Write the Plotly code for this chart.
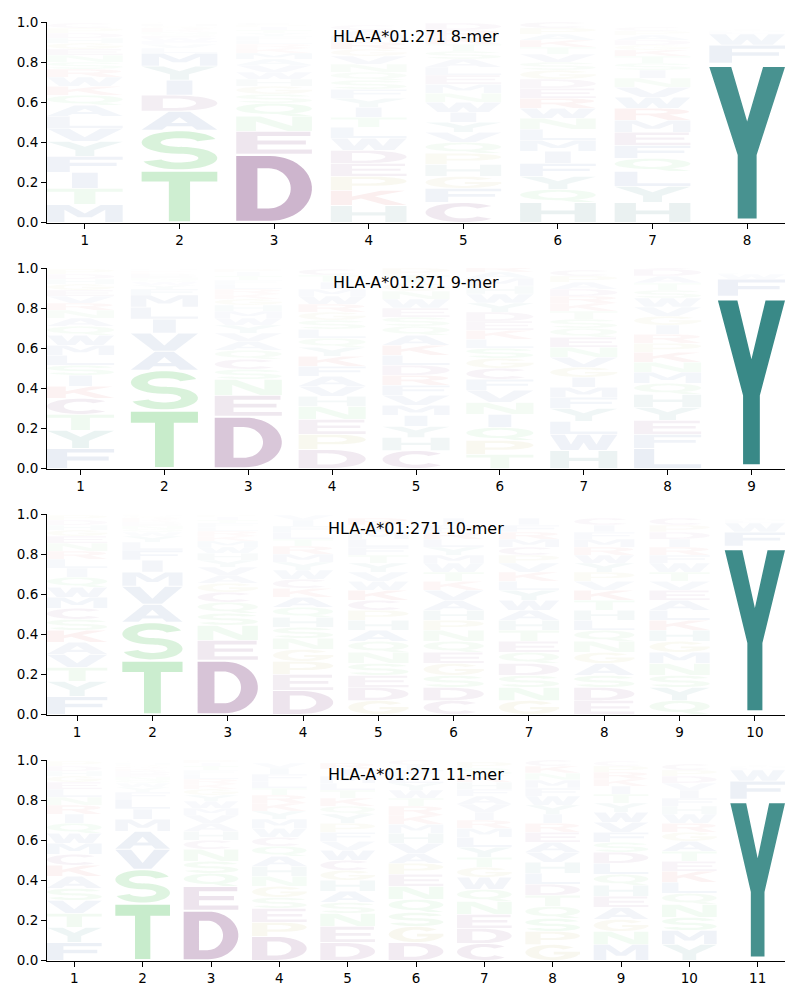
import numpy as np
import plotly.graph_objects as go

# ---------------- data (letters listed bottom -> top, with their probabilities) -------------
titles = ["HLA-A*01:271 8-mer", "HLA-A*01:271 9-mer", "HLA-A*01:271 10-mer", "HLA-A*01:271 11-mer"]

letters_8mer = ["MTIFYVLAQKWRSNEGHDPC", "TSADIYMLVFWEQNKRGHPC", "DENQSGHWVAMKRLFYTIPC",
                "HKPEDWLTIYFSQNVGRMAC", "CFGHPQVYIWNMELASTKRD", "HQYFIMLNWREDGSVTKAPC",
                "HYLQFEMRWVNISTKGDAPC", "YFWLMIHVQTSNKRAGEDPC"]
probs_8mer = [
    [.09, .08, .08, .08, .075, .065, .06, .055, .05, .045, .045, .04, .035, .035, .03, .03, .025, .025, .025, .025],
    [.26, .20, .095, .08, .075, .07, .065, .025, .02, .015, .015, .01, .01, .01, .01, .01, .01, .01, .005, .005],
    [.34, .115, .075, .065, .045, .04, .035, .035, .035, .03, .03, .025, .02, .02, .02, .015, .015, .015, .01, .01],
    [.085, .075, .07, .065, .065, .06, .055, .05, .05, .045, .045, .045, .04, .04, .04, .035, .035, .03, .03, .025],
    [.10, .07, .06, .06, .055, .055, .05, .05, .05, .05, .045, .045, .045, .04, .04, .04, .035, .035, .035, .035],
    [.10, .065, .065, .065, .06, .055, .055, .055, .05, .05, .05, .045, .045, .04, .04, .035, .035, .03, .03, .03],
    [.10, .08, .075, .065, .065, .065, .06, .06, .055, .05, .045, .04, .035, .035, .03, .025, .025, .025, .02, .02],
    [.795, .09, .055, .01, .008, .006, .005, .005, .004, .004, .003, .003, .002, .002, .002, .002, .001, .001, .001, .001],
]

letters_9mer = ["FYTCKISLMWQANRVEGHDP", "TSAVILMFYWQNEDKRGHPC", "DENSCQAVYWMHGKRLFTIP",
                "DPENHVAFKYQLSGRWMITC", "CHYIMVFRDLKAQSEWNGTP", "TPQINVFCGSLKEDYWHMAR",
                "HWLYFMIGVNEQSTKRDAPC", "LFEYHQMNKPRIGVWSTADC", "YFWLMIHVQTSNKRAGEDPC"]
probs_9mer = [
    [.10, .09, .08, .08, .06, .055, .05, .05, .05, .05, .045, .04, .04, .035, .035, .03, .03, .025, .025, .025],
    [.29, .20, .095, .09, .07, .06, .06, .03, .02, .015, .01, .01, .01, .01, .008, .007, .005, .005, .003, .002],
    [.26, .105, .08, .05, .05, .045, .045, .04, .04, .035, .035, .03, .03, .025, .025, .025, .02, .02, .02, .015],
    [.095, .075, .075, .065, .05, .05, .05, .05, .05, .045, .045, .045, .045, .04, .04, .04, .035, .035, .035, .03],
    [.09, .065, .055, .055, .05, .05, .05, .05, .05, .05, .05, .05, .045, .045, .045, .045, .04, .04, .04, .035],
    [.07, .07, .065, .065, .06, .06, .055, .055, .05, .05, .045, .045, .045, .045, .045, .045, .04, .04, .03, .03],
    [.09, .08, .065, .065, .055, .05, .05, .05, .05, .05, .05, .045, .045, .04, .04, .035, .035, .035, .03, .03],
    [.10, .07, .07, .065, .065, .055, .055, .05, .05, .045, .045, .045, .045, .045, .045, .04, .035, .035, .035, .03],
    [.86, .085, .025, .007, .005, .004, .003, .002, .002, .001, .001, .001, .001, .001, .001, .001, .001, .001, .001, .001],
]

letters_10mer = ["FYTVAKSCMWQILRNEGHDP", "TSAVMIFLYWQNEDKRGHPC", "DENSQCGAVYHWMKRLFTIP",
                 "DEPGNSHQAKCWYMRTLFIV", "GDESNQAHPCKWVYTFLMIR", "CDSGEQNPHAVKTWMYLRFI",
                 "GNSDQETHAWYLKVPCMRFI", "EDSAGNQLHTKVPYWRMFIC", "QYSNMGHKLAEVTWFRIDPC",
                 "YFWLMIHVQTSNKRAGEDPC"]
probs_10mer = [
    [.09, .075, .07, .065, .06, .06, .055, .055, .055, .05, .05, .045, .045, .04, .04, .035, .03, .025, .025, .025],
    [.27, .19, .09, .09, .07, .06, .05, .04, .03, .02, .015, .015, .01, .01, .01, .01, .01, .005, .005, .005],
    [.27, .10, .075, .06, .055, .05, .045, .04, .04, .035, .035, .03, .03, .025, .025, .02, .02, .015, .015, .01],
    [.12, .08, .065, .06, .055, .055, .05, .05, .05, .045, .045, .045, .04, .04, .04, .035, .035, .03, .03, .025],
    [.07, .065, .06, .06, .055, .055, .055, .05, .05, .05, .05, .045, .045, .045, .04, .04, .04, .035, .035, .035],
    [.07, .065, .06, .06, .055, .055, .055, .05, .05, .05, .05, .045, .045, .045, .04, .04, .04, .035, .035, .035],
    [.07, .065, .06, .06, .055, .055, .055, .05, .05, .05, .05, .045, .045, .045, .04, .04, .04, .035, .035, .035],
    [.07, .065, .06, .06, .055, .055, .055, .05, .05, .05, .05, .045, .045, .045, .04, .04, .04, .035, .035, .035],
    [.07, .065, .06, .06, .055, .055, .055, .05, .05, .05, .05, .045, .045, .045, .04, .04, .04, .035, .035, .035],
    [.84, .07, .045, .01, .008, .006, .005, .004, .003, .002, .002, .001, .001, .001, .001, .001, .0005, .0005, .0005, .0005],
]

letters_11mer = ["FYTVSAKCMWQIRNLEGHDP", "TSVAMILFYWQNEDKRGHPC", "DEQSNCHAVMWYGKRLFTIP",
                 "DPESGNHAQCWMYKRTLFIV", "DENSAHGCWVFPYQKTLMIR", "DGSQNEPAVHMKRTWYLFIC",
                 "CDENQWGTYLMRIVAFHKSP", "GPSQTDLHVAERIYWFMNKC", "MNGAEHQLDSFVWYTIKRPC",
                 "YMSNQLKETAGRWHFIVDPC", "YFWLMIHVQTSNKRAGEDPC"]
probs_11mer = [
    [.09, .075, .07, .065, .06, .06, .055, .055, .055, .05, .05, .045, .045, .04, .04, .035, .03, .025, .025, .025],
    [.285, .17, .10, .09, .06, .05, .05, .035, .025, .02, .015, .015, .015, .015, .012, .01, .01, .008, .005, .005],
    [.25, .12, .065, .06, .06, .045, .045, .04, .04, .035, .035, .03, .03, .025, .025, .025, .02, .02, .015, .015],
    [.12, .07, .07, .055, .055, .05, .05, .05, .05, .045, .045, .045, .04, .04, .04, .035, .035, .035, .03, .025],
    [.09, .08, .065, .055, .055, .055, .05, .05, .05, .045, .045, .045, .045, .04, .04, .04, .035, .035, .035, .03],
    [.09, .08, .07, .065, .065, .06, .055, .05, .05, .05, .045, .045, .045, .04, .04, .035, .035, .03, .025, .025],
    [.085, .075, .07, .065, .06, .06, .05, .05, .05, .05, .045, .04, .04, .04, .04, .035, .035, .035, .035, .03],
    [.08, .065, .065, .06, .055, .055, .055, .055, .05, .05, .05, .045, .045, .045, .045, .04, .04, .035, .035, .03],
    [.08, .065, .06, .06, .055, .055, .055, .055, .055, .05, .05, .05, .05, .045, .045, .04, .035, .035, .03, .025],
    [.08, .07, .065, .065, .055, .055, .055, .05, .05, .05, .045, .045, .045, .04, .04, .04, .035, .035, .03, .03],
    [.805, .09, .055, .01, .008, .006, .005, .004, .003, .003, .002, .002, .002, .001, .001, .001, .001, .001, .0005, .0005],
]

panels = [(letters_8mer, probs_8mer), (letters_9mer, probs_9mer),
          (letters_10mer, probs_10mer), (letters_11mer, probs_11mer)]

# ---------------- style ----------------
GREEN = (64, 188, 76)
PURPLE = (108, 37, 108)
TEAL = (25, 118, 115)
HTEAL = (45, 120, 120)
BLUE = (45, 85, 160)
RED = (200, 40, 40)
OLIVE = (165, 155, 45)
COLOR = {}
for ch in "STNQ":
    COLOR[ch] = GREEN
for ch in "DEC":
    COLOR[ch] = PURPLE
for ch in "AVLIMFW":
    COLOR[ch] = BLUE
for ch in "KR":
    COLOR[ch] = RED
for ch in "GP":
    COLOR[ch] = OLIVE
COLOR["Y"] = TEAL
COLOR["H"] = HTEAL

GLYPH_WIDTH = 0.8
VPAD = 0.05
FONT = "DejaVu Sans"


# ---------------- glyph outlines in a unit box (y up) ----------------
def ell(cx, cy, rx, ry, a0, a1, n=28):
    t = np.radians(np.linspace(a0, a1, n))
    return [(cx + rx * np.cos(v), cy + ry * np.sin(v)) for v in t]


def sector(cx, cy, rxo, ryo, rxi, ryi, a0, a1, n=28):
    return ell(cx, cy, rxo, ryo, a0, a1, n) + ell(cx, cy, rxi, ryi, a1, a0, n)


def full_ell(cx, cy, rx, ry, n=44):
    return ell(cx, cy, rx, ry, 0, 360, n)[:-1]


def rect(x0, y0, x1, y1):
    return [(x0, y0), (x1, y0), (x1, y1), (x0, y1)]


S, H_ = False, True  # solid / hole
GLYPHS = {
    "A": [([(0, 0), (0.27, 0), (0.335, 0.19), (0.665, 0.19), (0.73, 0), (1, 0), (0.64, 1), (0.36, 1)], S),
          ([(0.39, 0.37), (0.61, 0.37), (0.5, 0.70)], H_)],
    "C": [(sector(0.5, 0.5, 0.5, 0.5, 0.25, 0.31, 42, 318), S)],
    "D": [([(0, 0), (0.45, 0)] + ell(0.45, 0.5, 0.55, 0.5, -90, 90) + [(0, 1)], S),
          ([(0.28, 0.19), (0.28, 0.81), (0.43, 0.81)] + ell(0.43, 0.5, 0.29, 0.31, 90, -90), H_)],
    "E": [([(0, 0), (1, 0), (1, 0.19), (0.28, 0.19), (0.28, 0.42), (0.92, 0.42), (0.92, 0.6),
            (0.28, 0.6), (0.28, 0.81), (0.98, 0.81), (0.98, 1), (0, 1)], S)],
    "F": [([(0, 0), (0.3, 0), (0.3, 0.4), (0.92, 0.4), (0.92, 0.6), (0.3, 0.6), (0.3, 0.81),
            (1, 0.81), (1, 1), (0, 1)], S)],
    "G": [(sector(0.5, 0.5, 0.5, 0.5, 0.25, 0.31, 40, 360), S),
          (rect(0.52, 0.36, 1.0, 0.54), S)],
    "H": [([(0, 0), (0.28, 0), (0.28, 0.41), (0.72, 0.41), (0.72, 0), (1, 0), (1, 1), (0.72, 1),
            (0.72, 0.6), (0.28, 0.6), (0.28, 1), (0, 1)], S)],
    "I": [(rect(0.33, 0, 0.67, 1), S)],
    "K": [([(0, 0), (0.28, 0), (0.28, 0.33), (0.4, 0.46), (0.72, 0), (1, 0), (0.58, 0.62), (0.98, 1),
            (0.66, 1), (0.28, 0.6), (0.28, 1), (0, 1)], S)],
    "L": [([(0, 0), (1, 0), (1, 0.2), (0.3, 0.2), (0.3, 1), (0, 1)], S)],
    "M": [([(0, 0), (0.23, 0), (0.23, 0.72), (0.41, 0.28), (0.59, 0.28), (0.77, 0.72), (0.77, 0), (1, 0),
            (1, 1), (0.71, 1), (0.5, 0.5), (0.29, 1), (0, 1)], S)],
    "N": [([(0, 0), (0.26, 0), (0.26, 0.65), (0.68, 0), (1, 0), (1, 1), (0.74, 1), (0.74, 0.35),
            (0.32, 1), (0, 1)], S)],
    "P": [([(0, 0), (0.28, 0), (0.28, 0.33), (0.55, 0.33)] + ell(0.55, 0.665, 0.45, 0.335, -90, 90) + [(0, 1)], S),
          ([(0.28, 0.5), (0.28, 0.83), (0.5, 0.83)] + ell(0.5, 0.665, 0.22, 0.165, 90, -90), H_)],
    "Q": [(full_ell(0.5, 0.58, 0.5, 0.42), S), (full_ell(0.5, 0.58, 0.26, 0.25), H_),
          ([(0.5, 0.2), (0.72, 0.0), (1.0, 0.0), (0.76, 0.22)], S)],
    "R": [([(0, 0), (0.28, 0), (0.28, 0.4), (0.45, 0.4), (0.7, 0), (1, 0), (0.72, 0.47)]
           + ell(0.52, 0.72, 0.46, 0.28, -50, 90) + [(0, 1)], S),
          ([(0.28, 0.57), (0.28, 0.84), (0.5, 0.84)] + ell(0.5, 0.705, 0.2, 0.135, 90, -90), H_)],
    "S": [(sector(0.5, 0.705, 0.5, 0.295, 0.25, 0.115, 18, 278), S),
          (sector(0.5, 0.295, 0.5, 0.295, 0.25, 0.115, 98, -162), S)],
    "T": [([(0, 1), (1, 1), (1, 0.8), (0.64, 0.8), (0.64, 0), (0.36, 0), (0.36, 0.8), (0, 0.8)], S)],
    "V": [([(0, 1), (0.29, 1), (0.5, 0.3), (0.71, 1), (1, 1), (0.66, 0), (0.34, 0)], S)],
    "W": [([(0, 1), (0.22, 1), (0.31, 0.36), (0.41, 1), (0.59, 1), (0.69, 0.36), (0.78, 1), (1, 1),
            (0.84, 0), (0.58, 0), (0.5, 0.5), (0.42, 0), (0.16, 0)], S)],
    "Y": [([(0, 1), (0.29, 1), (0.5, 0.64), (0.71, 1), (1, 1), (0.625, 0.42), (0.625, 0), (0.375, 0),
            (0.375, 0.42)], S)],
}


def signed_area(poly):
    s = 0.0
    n = len(poly)
    for i in range(n):
        x1, y1 = poly[i]
        x2, y2 = poly[(i + 1) % n]
        s += x1 * y2 - x2 * y1
    return s / 2


def glyph_path(letter, x0, x1, y0, y1):
    parts = []
    for poly, hole in GLYPHS[letter]:
        a = signed_area(poly)
        if (a < 0) != hole:
            poly = poly[::-1]
        pts = [(x0 + (x1 - x0) * px, y0 + (y1 - y0) * py) for px, py in poly]
        parts.append("M" + "L".join(f"{x:.4f},{y:.5f}" for x, y in pts) + "Z")
    return "".join(parts)


# ---------------- figure ----------------
W, Hpx = 800, 1000
x_left, x_right = 47, 785
panel_tops = [22, 268, 514, 760]
panel_h = 200.5

fig = go.Figure()
shapes = []
annotations = []
layout = dict(width=W, height=Hpx, autosize=False,
              margin=dict(l=0, r=0, t=0, b=0, pad=0, autoexpand=False),
              paper_bgcolor="white", plot_bgcolor="white", showlegend=False,
              font=dict(family=FONT, color="black", size=13.5))

for k, ((letters, probs), title) in enumerate(zip(panels, titles)):
    idx = "" if k == 0 else str(k + 1)
    npos = len(letters)
    positions = list(range(1, npos + 1))
    top = panel_tops[k]
    ydom = [1 - (top + panel_h) / Hpx, 1 - top / Hpx]
    xdom = [x_left / W, x_right / W]

    layout["xaxis" + idx] = dict(domain=xdom, anchor="y" + idx, range=[0.6, npos + 0.4],
                                 tickmode="array", tickvals=positions, ticktext=[str(p) for p in positions],
                                 showline=True, linecolor="black", linewidth=1, mirror=False,
                                 ticks="outside", ticklen=5, tickwidth=1, tickcolor="black",
                                 showgrid=False, zeroline=False, fixedrange=True, automargin=False)
    layout["yaxis" + idx] = dict(domain=ydom, anchor="x" + idx, range=[0, 1],
                                 tickmode="array", tickvals=[0, 0.2, 0.4, 0.6, 0.8, 1.0],
                                 ticktext=["0.0", "0.2", "0.4", "0.6", "0.8", "1.0"],
                                 showline=True, linecolor="black", linewidth=1, mirror=False,
                                 ticks="outside", ticklen=5, tickwidth=1, tickcolor="black",
                                 showgrid=False, zeroline=False, fixedrange=True, automargin=False)

    # hover carrier trace (dominant residue per position)
    fig.add_trace(go.Scatter(x=positions, y=[pr[0] / 2 for pr in probs], mode="markers",
                             marker=dict(size=1, opacity=0), xaxis="x" + idx, yaxis="y" + idx,
                             text=[f"{l[0]}: {pr[0]:.2f}" for l, pr in zip(letters, probs)],
                             hoverinfo="text", showlegend=False))

    for p, (lets, prs) in enumerate(zip(letters, probs), start=1):
        floor = 0.0
        for ch, pr in zip(lets, prs):
            ceil = floor + pr
            if pr > 0:
                pad = VPAD * pr / 2
                x0, x1 = p - GLYPH_WIDTH / 2, p + GLYPH_WIDTH / 2
                r, g, b = COLOR[ch]
                shapes.append(dict(type="path", path=glyph_path(ch, x0, x1, floor + pad, ceil - pad),
                                   xref="x" + idx, yref="y" + idx,
                                   fillcolor=f"rgba({r},{g},{b},{min(pr, 1):.4f})",
                                   fillrule="nonzero", line=dict(width=0), layer="above"))
            floor = ceil

    annotations.append(dict(text=title, x=(npos + 1) / 2, y=0.93, xref="x" + idx, yref="y" + idx,
                            showarrow=False, xanchor="center", yanchor="middle",
                            font=dict(family=FONT, size=16, color="black")))

layout["shapes"] = shapes
layout["annotations"] = annotations
fig.update_layout(**layout)
fig.write_html("out.html", config={"responsive": False, "displayModeBar": False},
               post_script="document.body.style.margin='0';document.body.style.overflow='hidden';")
